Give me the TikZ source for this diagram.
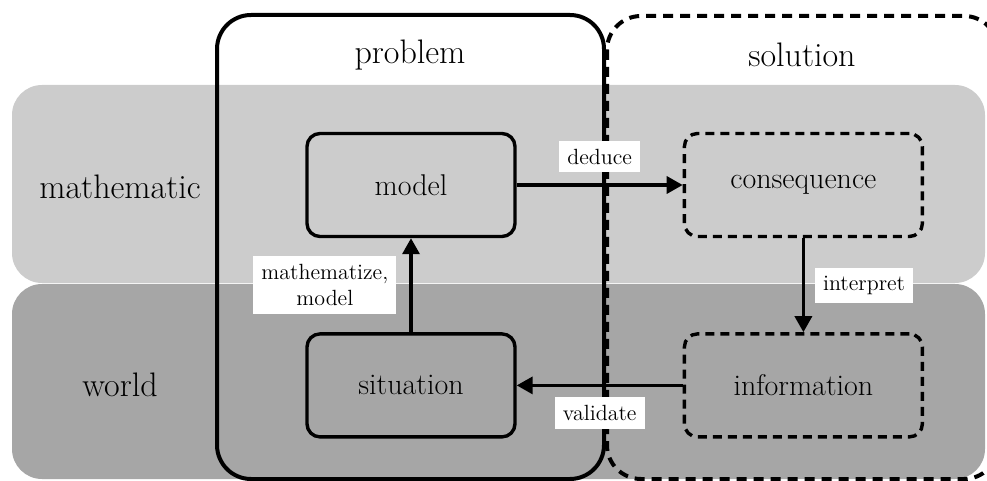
\documentclass[tikz,border=0pt]{standalone}
\usetikzlibrary{arrows.meta,positioning}
\definecolor{mathband}{gray}{0.8}
\definecolor{worldband}{gray}{0.65}
\tikzset{
  every node/.style={
    font=\fontsize{15}{18}\selectfont
  },
  band/.style={
    rounded corners=15pt
  },
  phase/.style={
    draw,
    line width=2pt,
    rounded corners=17pt
  },
  stagebox/.style={
    shape=rectangle,
    draw,
    line width=1.7pt,
    rounded corners=6.5pt,
    minimum width=104pt,
    minimum height=51.5pt
  },
  flow/.style={
    line width=1.7pt,
    -{Triangle[length=8pt,width=8.5pt]}
  },
  tag/.style={
    fill=white,
    inner sep=4pt,
    align=center,
    font=\fontsize{11}{13}\selectfont
  }
}

\begin{document}
\begin{tikzpicture}[%
    x=0.5pt, y=-0.5pt,
    big label/.style={font=\fontsize{17}{20}\selectfont},
    open/.style={dash pattern=on 4.5pt off 3pt}
  ]
    \useasboundingbox (0,0) rectangle (987,481);
    \clip (0,0) rectangle (987,481);
    \fill[band,mathband] (12,85) rectangle (985,283);
    \fill[band,worldband] (12,284) rectangle (985,479);
    \node[big label] (mathematic) at (120,187) {mathematic};
    \node[big label] (world) at (120,385) {world};

    \draw[phase] (217,15) rectangle (604,479);
    \draw[phase,dash pattern=on 5pt off 3.5pt] (607,16) rectangle (998,479);
    \node[big label] (problem) at (410,55) {problem};
    \node[big label] (solution) at (802,55) {solution};

    \node[stagebox] (model) at (411,185) {model};
    \node[stagebox,below=47pt of model] (situation) {situation};
    \node[stagebox,open,minimum width=119pt,right=83pt of model] (consequence) {consequence};
    \node[stagebox,open,minimum width=119pt,below=47pt of consequence] (information) {information};

    \draw[flow] (model) -- node[tag,above=5.5pt] {deduce} (consequence);
    \draw[flow] (consequence) -- node[tag,right=5pt] {interpret} (information);
    \draw[flow] (information) -- node[tag,below=5pt] {validate} (situation);
    \draw[flow] (situation) -- node[tag,left=6.5pt] {mathematize,\\model} (model);
  \end{tikzpicture}
\end{document}
